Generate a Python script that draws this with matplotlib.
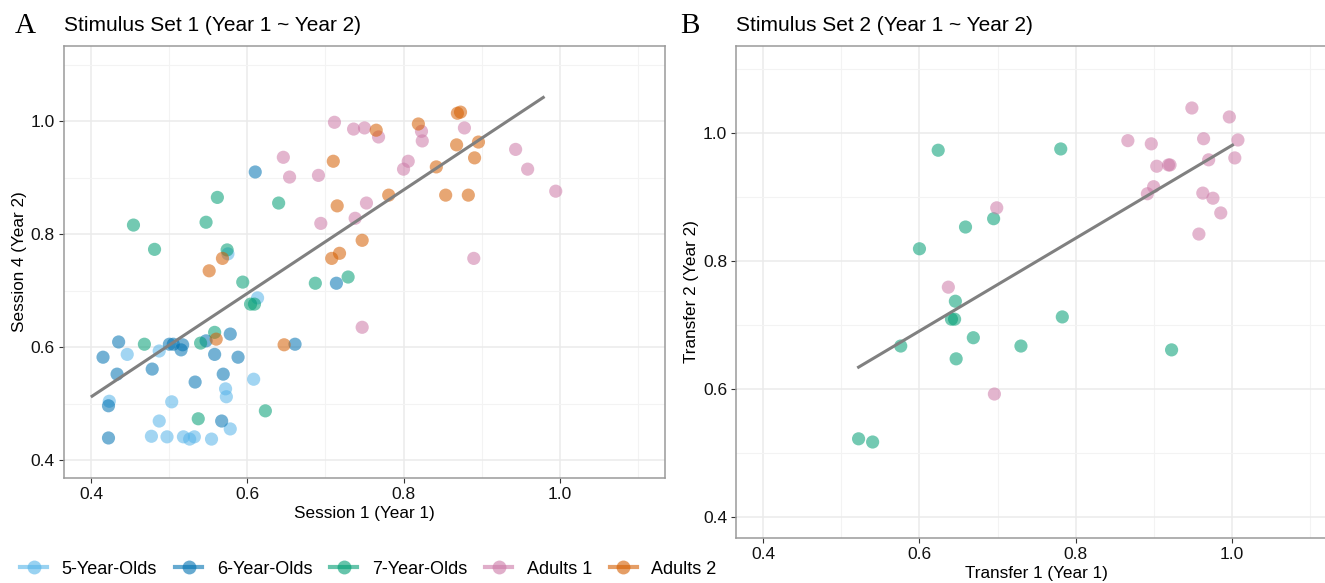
import numpy as np
import matplotlib.pyplot as plt
from matplotlib.lines import Line2D

plt.rcParams['font.family'] = ['Liberation Sans', 'DejaVu Sans']

groups = ['5-Year-Olds', '6-Year-Olds', '7-Year-Olds', 'Adults 1', 'Adults 2']
colors = ['#56B4E9', '#0072B2', '#009E73', '#CC79A7', '#D55E00']

# panel A: session 1 (year 1) vs session 4 (year 2)
a_x = {
    '5-Year-Olds': [0.575, 0.613, 0.487, 0.446, 0.608, 0.572, 0.573, 0.423, 0.503, 0.487,
                    0.578, 0.477, 0.497, 0.518, 0.526, 0.532, 0.554],
    '6-Year-Olds': [0.610, 0.714, 0.578, 0.435, 0.500, 0.505, 0.517, 0.515, 0.547, 0.661,
                    0.415, 0.558, 0.588, 0.433, 0.478, 0.569, 0.533, 0.422, 0.567, 0.422],
    '7-Year-Olds': [0.5615, 0.640, 0.547, 0.454, 0.481, 0.574, 0.594, 0.687, 0.729, 0.604,
                    0.609, 0.558, 0.468, 0.540, 0.623, 0.537],
    'Adults 1': [0.7115, 0.736, 0.750, 0.768, 0.646, 0.654, 0.691, 0.7525, 0.738, 0.694,
                 0.823, 0.824, 0.878, 0.806, 0.800, 0.9436, 0.959, 0.995, 0.890, 0.747],
    'Adults 2': [0.765, 0.710, 0.715, 0.747, 0.718, 0.708, 0.819, 0.869, 0.873, 0.868,
                 0.896, 0.891, 0.842, 0.781, 0.854, 0.883, 0.568, 0.551, 0.560, 0.647],
}
a_y = {
    '5-Year-Olds': [0.765, 0.687, 0.593, 0.587, 0.543, 0.526, 0.512, 0.504, 0.503, 0.469,
                    0.455, 0.442, 0.441, 0.441, 0.437, 0.441, 0.437],
    '6-Year-Olds': [0.910, 0.713, 0.623, 0.609, 0.605, 0.605, 0.604, 0.595, 0.611, 0.605,
                    0.582, 0.587, 0.582, 0.552, 0.561, 0.552, 0.538, 0.496, 0.469, 0.439],
    '7-Year-Olds': [0.865, 0.855, 0.821, 0.816, 0.773, 0.772, 0.715, 0.713, 0.724, 0.676,
                    0.676, 0.626, 0.605, 0.607, 0.487, 0.473],
    'Adults 1': [0.998, 0.986, 0.988, 0.972, 0.936, 0.901, 0.904, 0.855, 0.828, 0.819,
                 0.982, 0.965, 0.988, 0.929, 0.915, 0.950, 0.915, 0.876, 0.757, 0.635],
    'Adults 2': [0.984, 0.929, 0.850, 0.789, 0.766, 0.757, 0.995, 1.014, 1.016, 0.958,
                 0.963, 0.935, 0.919, 0.869, 0.869, 0.869, 0.757, 0.735, 0.614, 0.604],
}
# fitted line as drawn in the figure (ends)
a_fit_x = [0.401, 0.979]
a_fit_y = [0.513, 1.042]

# panel B: transfer 1 (year 1) vs transfer 2 (year 2)
b_x = {
    '7-Year-Olds': [0.624, 0.695, 0.659, 0.600, 0.781, 0.646, 0.641, 0.645, 0.669, 0.576,
                    0.730, 0.647, 0.522, 0.540, 0.783, 0.923],
    'Adults 1': [0.699, 0.637, 0.867, 0.897, 0.904, 0.919, 0.921, 0.949, 0.997, 0.964,
                 1.008, 0.9705, 1.004, 0.900, 0.892, 0.963, 0.976, 0.986, 0.958, 0.696],
}
b_y = {
    '7-Year-Olds': [0.973, 0.866, 0.853, 0.819, 0.975, 0.737, 0.709, 0.709, 0.680, 0.667,
                    0.667, 0.647, 0.522, 0.517, 0.7125, 0.661],
    'Adults 1': [0.883, 0.759, 0.988, 0.983, 0.948, 0.950, 0.950, 1.039, 1.025, 0.991,
                 0.989, 0.958, 0.961, 0.916, 0.905, 0.906, 0.898, 0.875, 0.842, 0.592],
}
b_fit_x = [0.522, 1.001]
b_fit_y = [0.634, 0.981]

ticks = [0.4, 0.6, 0.8, 1.0]
minor = [0.5, 0.7, 0.9, 1.1]

fig = plt.figure(figsize=(13.25, 5.83), dpi=100)
axA = fig.add_axes([0.0483, 0.180, 0.4536, 0.741])
axB = fig.add_axes([0.5555, 0.0772, 0.4536, 0.844])


def panel(ax, xs, ys, fx, fy, xlab, ylab, ylim):
    for g, c in zip(groups, colors):
        if g not in xs:
            continue
        ax.scatter(xs[g], ys[g], s=90, color=c, alpha=0.55, edgecolors='none', zorder=3)
    ax.plot(fx, fy, color='#808080', lw=2.2, zorder=4)
    ax.set_xlim(0.365, 1.135)
    ax.set_ylim(*ylim)
    ax.set_xticks(ticks)
    ax.set_yticks(ticks)
    ax.set_xticks(minor, minor=True)
    ax.set_yticks(minor, minor=True)
    ax.set_xticklabels(['0.4', '0.6', '0.8', '1.0'])
    ax.set_yticklabels(['0.4', '0.6', '0.8', '1.0'])
    ax.grid(True, which='major', color='#EBEBEB', lw=1.1, zorder=0)
    ax.grid(True, which='minor', color='#F3F3F3', lw=0.8, zorder=0)
    ax.tick_params(which='major', length=3.5, width=0.8, color='#333333',
                   labelsize=12.5, labelcolor='#111111', pad=3)
    ax.tick_params(which='minor', length=0)
    for sp in ax.spines.values():
        sp.set_color('#9A9A9A')
        sp.set_linewidth(1.1)
    ax.set_xlabel(xlab, fontsize=12.3, labelpad=3)
    ax.set_ylabel(ylab, fontsize=12.3, labelpad=3)
    ax.set_axisbelow(True)


panel(axA, a_x, a_y, a_fit_x, a_fit_y, 'Session 1 (Year 1)', 'Session 4 (Year 2)', (0.368, 1.133))
panel(axB, b_x, b_y, b_fit_x, b_fit_y, 'Transfer 1 (Year 1)', 'Transfer 2 (Year 2)', (0.367, 1.136))

fig.text(0.0483, 0.957, 'Stimulus Set 1 (Year 1 ~ Year 2)', fontsize=15, va='center')
fig.text(0.5555, 0.957, 'Stimulus Set 2 (Year 1 ~ Year 2)', fontsize=15, va='center')
fig.text(0.011, 0.955, 'A', fontsize=21, va='center', family='Liberation Serif')
fig.text(0.513, 0.955, 'B', fontsize=21, va='center', family='Liberation Serif')

handles = [Line2D([], [], color=c, marker='o', markersize=10, lw=3,
                  markerfacecolor=c, markeredgecolor='none', alpha=0.6)
           for c in colors]
fig.legend(handles, groups, loc='center left', bbox_to_anchor=(0.003, 0.024),
           ncol=5, frameon=False, fontsize=13, handlelength=1.5,
           handletextpad=0.8, columnspacing=1.0)

fig.savefig('out.png', dpi=100)
